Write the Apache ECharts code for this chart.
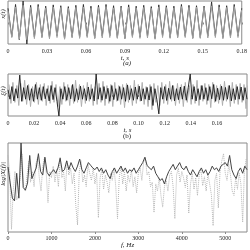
<!DOCTYPE html>
<html>
<head>
<meta charset="utf-8">
<script src="https://cdn.jsdelivr.net/npm/echarts@6/dist/echarts.min.js"></script>
<style>
html, body { margin: 0; padding: 0; background: #fff; }
#chart { width: 250px; height: 250px; }
</style>
</head>
<body>
<div id="chart"></div>
<script>
// (a) x(t): peak / trough values, one per half period
var xClean = [0.55, -0.7, 0.72, -0.78, 0.8, -0.8, 0.7, -0.75, 0.74, -0.72,
    0.68, -0.76, 0.72, -0.7, 0.7, -0.78, 0.66, -0.72, 0.7, -0.74,
    0.72, -0.7, 0.66, -0.76, 0.7, -0.72, 0.74, -0.7, 0.68, -0.74,
    0.7, -0.76, 0.72, -0.7, 0.68, -0.74, 0.7, -0.72, 0.66, -0.78,
    0.72, -0.7, 0.7, -0.74, 0.68, -0.72, 0.74, -0.7, 0.7, -0.76,
    0.72, -0.74, 0.7, -0.72, 0.76, -0.7, 0.72, -0.76, 0.7, -0.72,
    0.74, -0.7, 0.6];
var xNoisy = [0.66, -0.66, 0.84, -0.8, 1.0, -1.0, 0.8, -0.68, 0.84, -0.66,
    0.76, -0.7, 0.82, -0.62, 0.78, -0.75, 0.74, -0.66, 0.8, -0.68,
    0.84, -0.64, 0.76, -0.72, 0.8, -0.64, 0.84, -0.62, 0.78, -0.7,
    0.76, -0.74, 0.82, -0.64, 0.76, -0.68, 0.8, -0.64, 0.74, -0.74,
    0.82, -0.62, 0.78, -0.7, 0.76, -0.66, 0.84, -0.64, 0.8, -0.72,
    0.78, -0.7, 0.76, -0.64, 0.96, -0.62, 0.82, -0.7, 0.78, -0.64,
    0.84, -0.62, 0.66];
var ticksA = [0, 0.03, 0.06, 0.09, 0.12, 0.15, 0.18];

// (b) ξ(t): noise samples
var xiBlack = [0.25, -0.2, 0.4, -0.28, 0.3, -0.15, 0.95, -0.3, 0.35, -0.2,
    0.45, -0.25, 0.3, -0.3, 0.5, -0.2, 0.35, -0.25, 0.4, -0.18,
    0.3, -0.28, 0.45, -0.22, 0.35, -0.3, -1.0, 0.3, -0.2, 0.4,
    -0.25, 0.35, -0.18, 0.5, -0.3, 0.3, -0.22, 0.42, -0.2, 0.3,
    -0.26, 0.38, -0.2, 0.3, -0.28, 1.0, -0.2, 0.35, -0.25, 0.4,
    -0.18, 0.32, -0.3, 0.45, -0.22, 0.3, -0.26, 0.4, -0.2, 0.35,
    -0.3, 0.48, -0.22, 0.3, -0.25, 0.38, -0.2, 0.42, -0.28, 0.3,
    -0.2, 0.36, -0.24, 0.4, -0.5, 0.3, -0.22, -0.9, 0.35, -0.2,
    0.4, -0.26, 0.32, -0.2, 0.45, -0.28, 0.3, -0.22, 0.38, -0.2,
    0.42, -0.25, 0.35, 1.0, -0.2, 0.4, -0.28, 0.3, -0.22, 0.45,
    -0.2, 0.35, -0.26, 0.4, -0.18, 0.5, -0.3, 0.32, -0.22, 0.42,
    -0.25, 0.36, -0.2, 0.45, -0.28, 0.3, -0.22, 0.4, -0.2, 0.38,
    -0.25, 0.35, -0.2];
var xiGray = [0.5, -0.4, 0.6, -0.35, 0.45, -0.5, 0.55, -0.3, 0.7, -0.45,
    0.5, -0.55, 0.4, -0.35, 0.6, -0.45, 0.5, -0.3, 0.55, -0.5,
    0.45, -0.4, 0.65, -0.35, 0.5, -0.55, 0.4, -0.45, 0.6, -0.3,
    0.5, -0.5, 0.45, -0.4, 0.7, -0.35, 0.5, -0.55, 0.45, -0.4,
    0.6, -0.3, 0.5, -0.5, 0.4, -0.45, 0.55, -0.35, 0.65, -0.5,
    0.45, -0.4, 0.5, -0.55, 0.6, -0.3, 0.45, -0.45, 0.5, -0.6,
    0.55, -0.35, 0.45, -0.5, 0.7, -0.4, 0.5, -0.3, 0.6, -0.45,
    0.4, -0.55, 0.5, -0.7, 0.55, -0.35, 0.45, -0.5, 0.6, -0.4,
    0.5, -0.45, 0.65, -0.3, 0.45, -0.5, 0.55, -0.4, 0.5, -0.55,
    0.6, -0.35, 0.45, -0.45, 0.5, -0.4, 0.7, -0.5, 0.45, -0.3,
    0.55, -0.45, 0.5, -0.6, 0.6, -0.35, 0.45, -0.4, 0.5, -0.5,
    0.65, -0.3, 0.45, -0.55, 0.6, -0.4, 0.5, -0.45, 0.55, -0.35,
    0.5, -0.65, 0.45];
var ticksB = [0, 0.02, 0.04, 0.06, 0.08, 0.1, 0.12, 0.14, 0.16];

// (c) log|X(f)|: smoothed (step 50 Hz) and raw (step 40 Hz)
var specSmooth = [73, 55, 38, 35, 66, 38, 100, 50, 47, 55, 86, 60, 66, 72, 88, 68, 64, 84, 67, 63, 67,
    70, 66, 72, 83, 68, 70, 80, 70, 78, 72, 68, 74, 82, 70, 66, 72, 78, 75, 72, 70,
    73, 68, 72, 66, 70, 64, 60, 68, 72, 66, 70, 74, 68, 72, 66, 70, 68, 72, 66, 70,
    74, 78, 84, 75, 72, 70, 74, 66, 62, 58, 60, 54, 62, 68, 72, 76, 70, 74, 78, 72,
    70, 74, 68, 64, 70, 66, 62, 68, 72, 66, 70, 64, 68, 74, 70, 72, 68, 74, 76, 78,
    74, 86, 70, 64, 60, 68, 72, 66, 74, 70];
var specRaw = [86, 66, 3, 46, 68, 36, 41, 61, 88, 51, 46, 64, 80, 56, 68, 51, 76, 84, 61, 46, 74, 84, 66, 33, 68, 61,
    74, 56, 70, 51, 84, 61, 68, 46, 80, 64, 72, 54, 66, 30, 8, 68, 80, 56, 64, 51, 76, 66, 58, 72, 54,
    66, 16, 61, 70, 48, 64, 56, 44, 66, 58, 72, 51, 15, 61, 74, 54, 68, 46, 64, 56, 70, 51, 62, 44, 66,
    72, 58, 78, 84, 64, 68, 51, 56, 22, 54, 46, 61, 41, 28, 51, 58, 46, 64, 68, 51, 15, 64, 72, 56, 68,
    61, 50, 64, 21, 54, 66, 48, 61, 41, 64, 70, 52, 62, 46, 66, 54, 42, 7, 58, 66, 27, 68, 80, 88, 66,
    58, 76, 64, 46, 41, 61, 48, 66, 54, 11, 68, 82];
var ticksC = [0, 1000, 2000, 3000, 4000, 5000];

function pairs(arr, step, offset) {
    return arr.map(function (v, i) { return [offset + i * step, v]; });
}
function fmtT(v) { return v === 0 ? '0' : v.toFixed(2); }
function fmtF(v) { return String(v); }

var serif = 'Liberation Serif';
var frame = '#8a8a8a';
var labelStyle = { fontFamily: serif, fontSize: 6, color: '#222' };
var nameStyle = { fontFamily: serif, fontSize: 7, fontStyle: 'italic', color: '#222' };
var nameFont = 'italic 7px "Liberation Serif"';

var myChart = echarts.init(document.getElementById('chart'), null, { renderer: 'canvas' });
var option = {
    animation: false,
    grid: [
        { left: 8, right: 3, top: 1, height: 43, show: true, borderColor: frame, borderWidth: 1 },
        { left: 8, right: 3, top: 74, height: 42, show: true, borderColor: frame, borderWidth: 1 },
        { left: 8, right: 3, top: 143, height: 91, show: true, borderColor: frame, borderWidth: 1 }
    ],
    xAxis: [
        {
            gridIndex: 0, type: 'value', min: 0, max: 0.18,
            axisLine: { show: false }, splitLine: { show: false },
            axisTick: { length: 2, lineStyle: { color: frame }, customValues: ticksA },
            axisLabel: Object.assign({ margin: 4, formatter: fmtT, customValues: ticksA }, labelStyle),
            name: 't, s', nameLocation: 'middle', nameGap: 10, nameTextStyle: nameStyle
        },
        {
            gridIndex: 1, type: 'value', min: 0, max: 0.183,
            axisLine: { show: false }, splitLine: { show: false },
            axisTick: { length: 2, lineStyle: { color: frame }, customValues: ticksB },
            axisLabel: Object.assign({ margin: 4, formatter: fmtT, customValues: ticksB }, labelStyle),
            name: 't, s', nameLocation: 'middle', nameGap: 11, nameTextStyle: nameStyle
        },
        {
            gridIndex: 2, type: 'value', min: 0, max: 5500,
            axisLine: { show: false }, splitLine: { show: false },
            axisTick: { length: 2, lineStyle: { color: frame }, customValues: ticksC },
            axisLabel: Object.assign({ margin: 3, formatter: fmtF, customValues: ticksC }, labelStyle),
            name: 'f, Hz', nameLocation: 'middle', nameGap: 10, nameTextStyle: nameStyle
        }
    ],
    yAxis: [
        { gridIndex: 0, type: 'value', min: -1, max: 1, axisLine: { show: false }, axisTick: { show: false }, axisLabel: { show: false }, splitLine: { show: false } },
        { gridIndex: 1, type: 'value', min: -1, max: 1, axisLine: { show: false }, axisTick: { show: false }, axisLabel: { show: false }, splitLine: { show: false } },
        { gridIndex: 2, type: 'value', min: 0, max: 100, axisLine: { show: false }, axisTick: { show: false }, axisLabel: { show: false }, splitLine: { show: false } }
    ],
    series: [
        {
            type: 'line', xAxisIndex: 0, yAxisIndex: 0, showSymbol: false, z: 2,
            data: pairs(xNoisy, 0.18 / (xNoisy.length - 1), 0),
            lineStyle: { color: '#2a2a2a', width: 0.9 }
        },
        {
            type: 'line', xAxisIndex: 0, yAxisIndex: 0, showSymbol: false, z: 3,
            data: pairs(xClean, 0.18 / (xClean.length - 1), 0),
            lineStyle: { color: '#a0a0a0', width: 1 }
        },
        {
            type: 'line', xAxisIndex: 1, yAxisIndex: 1, showSymbol: false, z: 2,
            data: pairs(xiGray, 0.0015, 0.00075),
            lineStyle: { color: '#b0b0b0', width: 1 }
        },
        {
            type: 'line', xAxisIndex: 1, yAxisIndex: 1, showSymbol: false, z: 3,
            data: pairs(xiBlack, 0.0015, 0),
            lineStyle: { color: '#1a1a1a', width: 0.9 }
        },
        {
            type: 'line', xAxisIndex: 2, yAxisIndex: 2, showSymbol: false, z: 2,
            data: pairs(specRaw, 40, 0),
            lineStyle: { color: '#b4b4b4', width: 1, type: 'dotted' }
        },
        {
            type: 'line', xAxisIndex: 2, yAxisIndex: 2, showSymbol: false, z: 3,
            data: pairs(specSmooth, 50, 0),
            lineStyle: { color: '#444', width: 1 }
        }
    ],
    graphic: [
        { type: 'text', x: 3, y: 14, rotation: Math.PI / 2, style: { text: 'x(t)', font: nameFont, fill: '#222', align: 'center', verticalAlign: 'middle' } },
        { type: 'text', x: 3, y: 91, rotation: Math.PI / 2, style: { text: 'ξ(t)', font: nameFont, fill: '#222', align: 'center', verticalAlign: 'middle' } },
        { type: 'text', x: 3, y: 174, rotation: Math.PI / 2, style: { text: 'log|X(f)|', font: nameFont, fill: '#222', align: 'center', verticalAlign: 'middle' } },
        { type: 'text', x: 127, y: 63, style: { text: '(a)', font: nameFont, fill: '#222', align: 'center', verticalAlign: 'middle' } },
        { type: 'text', x: 127, y: 136, style: { text: '(b)', font: '7px "Liberation Serif"', fill: '#222', align: 'center', verticalAlign: 'middle' } }
    ]
};
myChart.setOption(option);
</script>
</body>
</html>
